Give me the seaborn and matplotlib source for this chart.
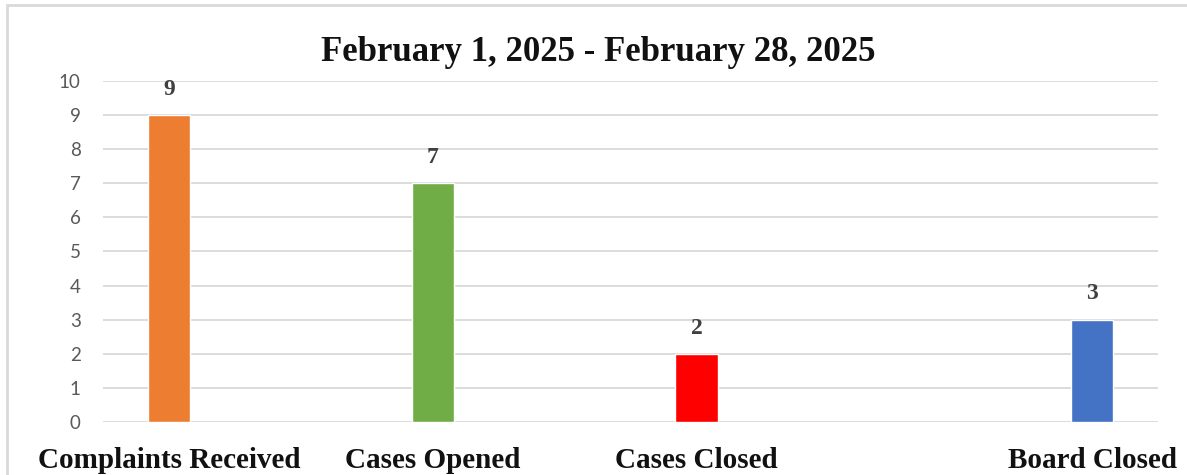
import numpy as np
import pandas as pd
import matplotlib
matplotlib.use("Agg")
import matplotlib.pyplot as plt
from matplotlib.patches import Rectangle
import seaborn as sns

# data
categories = ["Complaints Received", "Cases Opened", "Cases Closed", "Board Closed"]
counts = [9, 7, 2, 3]
title = "February 1, 2025 - February 28, 2025"

# layout / style
positions = [0, 1, 2, 3.5]
colors = ["#ED7D31", "#70AD47", "#FF0000", "#4472C4"]

df = pd.DataFrame({"pos": positions, "count": counts, "category": categories})

sns.set_theme(style="white")
plt.rcParams["font.family"] = ["Liberation Serif", "DejaVu Serif"]

fig = plt.figure(figsize=(11.87, 4.75), dpi=100)
ax = fig.add_axes([0.0868, 0.1116, 0.8888, 0.7179])

sns.barplot(data=df, x="pos", y="count", hue="category", palette=colors,
            native_scale=True, width=0.16, dodge=False, legend=False,
            saturation=1, ax=ax)

ax.set_xlim(-0.25, 3.75)
ax.set_ylim(0, 10)
ax.set_yticks(range(0, 11))
ax.yaxis.grid(True, color="#D9D9D9", linewidth=1.3)
ax.set_axisbelow(True)
for s in ax.spines.values():
    s.set_visible(False)
ax.set_xlabel("")
ax.set_ylabel("")

ax.set_xticks(positions)
ax.set_xticklabels(categories, fontsize=21, fontweight="bold", color="#111111")
ax.tick_params(axis="x", length=0, pad=18)
ax.tick_params(axis="y", length=0, pad=16, labelsize=13.5, labelcolor="#595959")
for lab in ax.get_yticklabels():
    lab.set_family(["Lato", "DejaVu Sans"])

for p, v in zip(positions, counts):
    ax.annotate(str(v), (p, v), xytext=(0, 11), textcoords="offset points",
                ha="center", va="bottom", fontsize=17, fontweight="bold",
                color="#404040")

fig.text(0.504, 0.89, title, ha="center", va="center", fontsize=25,
         fontweight="bold", color="#111111")

fig.patches.append(Rectangle((0.006, -0.1), 1.2, 1.089, transform=fig.transFigure,
                             fill=False, edgecolor="#D9D9D9", linewidth=2))

fig.savefig("out.png", dpi=100, facecolor="white")
